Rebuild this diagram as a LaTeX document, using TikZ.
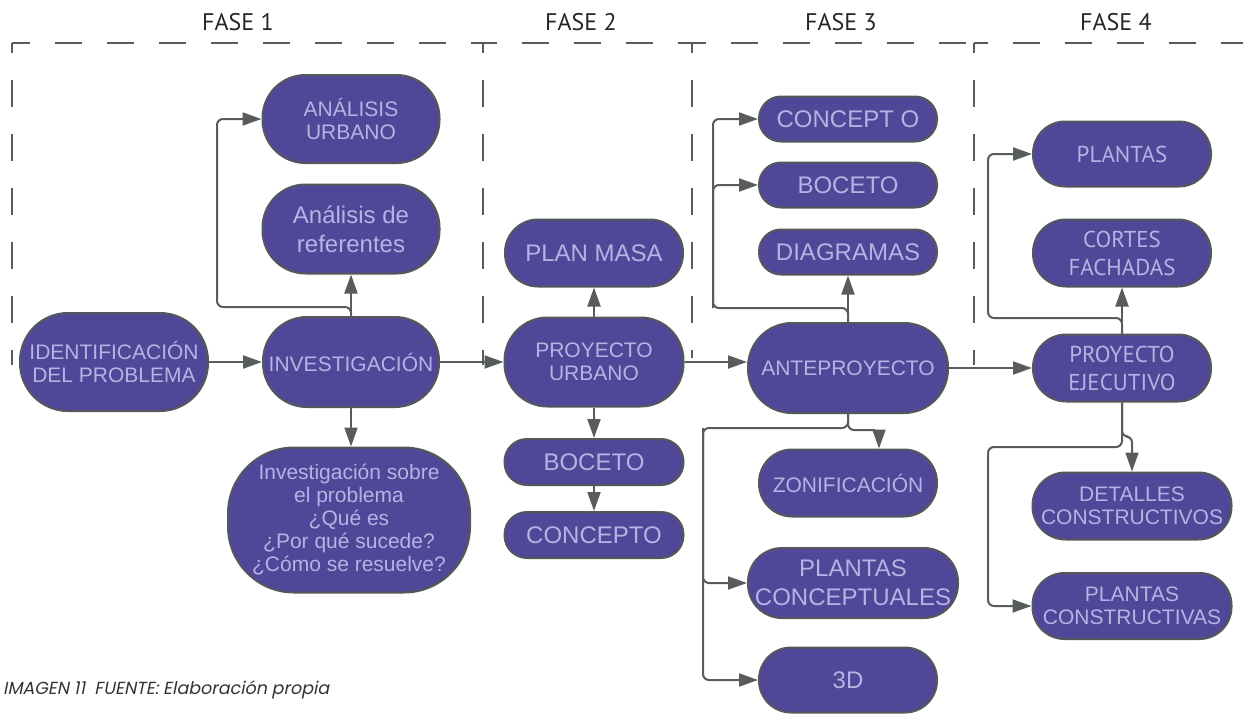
\documentclass[tikz,border=0pt]{standalone}
\usepackage{fontspec}
\setmainfont{Liberation Sans}
\newfontfamily\myr{PT Sans}
\newfontfamily\capf{Poppins}[FakeSlant=0.2]
\usetikzlibrary{arrows.meta}
\definecolor{pcol}{RGB}{80,71,152}
\definecolor{bcol}{RGB}{85,88,90}
\definecolor{tcol}{RGB}{184,178,228}
\definecolor{acol}{RGB}{88,92,92}
\definecolor{dcol}{RGB}{90,90,90}
\tikzset{
 box/.style={draw=bcol, line width=2pt, fill=pcol, text=tcol, align=center, inner sep=0pt},
 sz/.style n args={3}{minimum width=#1pt, minimum height=#2pt, rounded corners=#3pt},
 fa/.style={font=\fontsize{21}{23}\selectfont},
 fb/.style={font=\fontsize{24}{29}\selectfont},
 fc/.style={font=\myr\fontsize{23}{28}\selectfont},
 arr/.style={draw=acol, line width=2pt, -{Triangle[length=19pt,width=13pt]}, rounded corners=6pt},
 hdash/.style={draw=dcol, line width=2pt, dash pattern=on 27pt off 25pt},
 vdash/.style={draw=dcol, line width=2pt, dash pattern=on 27pt off 27pt, dash phase=17pt},
 fase/.style={font=\myr\fontsize{24}{28}\selectfont, text=black!85, inner sep=0pt},
}
\begin{document}
\begin{tikzpicture}[x=1pt,y=-1pt]
\useasboundingbox (0,0) rectangle (1243,715);
% frame
\coordinate (c0) at (12,43);
\coordinate (c1) at (483,43);
\coordinate (c2) at (692,43);
\coordinate (c3) at (974,43);
\coordinate (c4) at (1243,43);
\draw[hdash, dash phase=9pt] (c0) -- (c1);
\draw[hdash, dash phase=13.5pt] (c1) -- (c2);
\draw[hdash, dash phase=13.5pt] (c2) -- (c3);
\draw[hdash, dash phase=13.5pt] (c3) -- (c4);
\draw[vdash] (c0) -- ++(0,322);
\draw[vdash] (c1) -- ++(0,322);
\draw[vdash] (c2) -- ++(0,315);
\draw[vdash] (c3) -- ++(0,322);
\node[fase] (f1) at (238,22) {FASE 1};
\node[fase] (f2) at (581,22) {FASE 2};
\node[fase] (f3) at (841,22) {FASE 3};
\node[fase] (f4) at (1116,22) {FASE 4};
% nodes fase 1
\node[box, sz={188}{98}{48}, fa] (ident) at (114,362) {IDENTIFICACIÓN\\DEL PROBLEMA};
\node[box, sz={176}{90}{44}, fa] (invest) at (351,362) {INVESTIGACIÓN};
\node[box, sz={177}{88}{43}, fa] (aurb) at (351,119) {ANÁLISIS\\URBANO};
\node[box, sz={177}{89}{43}, fb] (aref) at (351,229) {Análisis de\\referentes};
\node[box, sz={242}{145}{66}, fa] (isob) at (349,520) {Investigación sobre\\el problema\\¿Qué es\\¿Por qué sucede?\\¿Cómo se resuelve?};
% fase 2
\node[box, sz={178}{67}{33}, fb] (pm) at (594,253) {PLAN MASA};
\node[box, sz={179}{89}{43}, fa] (pu) at (594,362) {PROYECTO\\URBANO};
\node[box, sz={179}{46}{22.5}, fb] (bo2) at (594,462) {BOCETO};
\node[box, sz={179}{46}{22.5}, fb] (co2) at (594,535) {CONCEPTO};
% fase 3
\node[box, sz={178}{45}{22}, fb] (co3) at (848,119) {CONCEPT O};
\node[box, sz={178}{45}{22}, fb] (bo3) at (848,185) {BOCETO};
\node[box, sz={178}{45}{22}, fb] (dia) at (848,252) {DIAGRAMAS};
\node[box, sz={200}{90}{44}, fa] (ante) at (848,368) {ANTEPROYECTO};
\node[box, sz={178}{67}{33}, fa] (zon) at (848,483) {ZONIFICACIÓN};
\node[box, sz={210}{70}{34}, fb] (pc) at (853,583) {PLANTAS\\CONCEPTUALES};
\node[box, sz={178}{65}{32}, fb] (d3) at (848,680) {3D};
% fase 4
\node[box, sz={178}{65}{32}, fc] (pl) at (1122,154) {PLANTAS};
\node[box, sz={178}{67}{33}, fc] (cf) at (1122,253) {CORTES\\FACHADAS};
\node[box, sz={178}{67}{33}, fc] (pe) at (1122,368) {PROYECTO\\EJECUTIVO};
\node[box, sz={199}{67}{33}, fa] (det) at (1132,506) {DETALLES\\CONSTRUCTIVOS};
\node[box, sz={199}{66}{32}, fa] (pcn) at (1132,606) {PLANTAS\\CONSTRUCTIVAS};
% junctions
\coordinate (j1) at (217,307);
\coordinate (j2) at (713,308);
\coordinate (j4) at (703,428);
\coordinate (j5) at (988,318);
\coordinate (j6) at (988,447);
% connectors
\draw[arr] (ident) -- (invest);
\draw[arr] (invest.north) -- (aref.south);
\draw[arr] (invest.north) |- (j1) |- (aurb.west);
\draw[arr] (invest.south) -- (isob.north -| invest.south);
\draw[arr] (invest) -- (pu);
\draw[arr] (pu.north) -- (pm.south);
\draw[arr] (pu.south) -- (bo2.north);
\draw[arr] (bo2.south) -- (co2.north);
\draw[arr] (pu.east) -- (pu.east -| ante.west);
\draw[arr] (ante.north) -- (dia.south);
\draw[arr] (ante.north) |- (j2) |- (co3.west);
\draw[arr] (j2) |- (bo3.west);
\draw[arr] (ante.south) -- ++(0,16) -| ([xshift=31pt]zon.north);
\draw[arr] (ante.south) |- (j4) |- (pc.west);
\draw[arr] (j4) |- (d3.west);
\draw[arr] (ante.east) -- (pe.west);
\draw[arr] (pe.north) -- (cf.south);
\draw[arr] (pe.north) |- (j5) |- (pl.west);
\draw[arr] (pe.south) -- ++(0,34) -| (det.north);
\draw[arr] (pe.south) |- (j6) |- (pcn.west);
% caption
\node[anchor=west, inner sep=0pt, text=black!80, font=\capf\fontsize{17.5}{20}\selectfont] (cap) at (3,690) {IMAGEN 11\ \ FUENTE: Elaboración propia};
\end{tikzpicture}
\end{document}
